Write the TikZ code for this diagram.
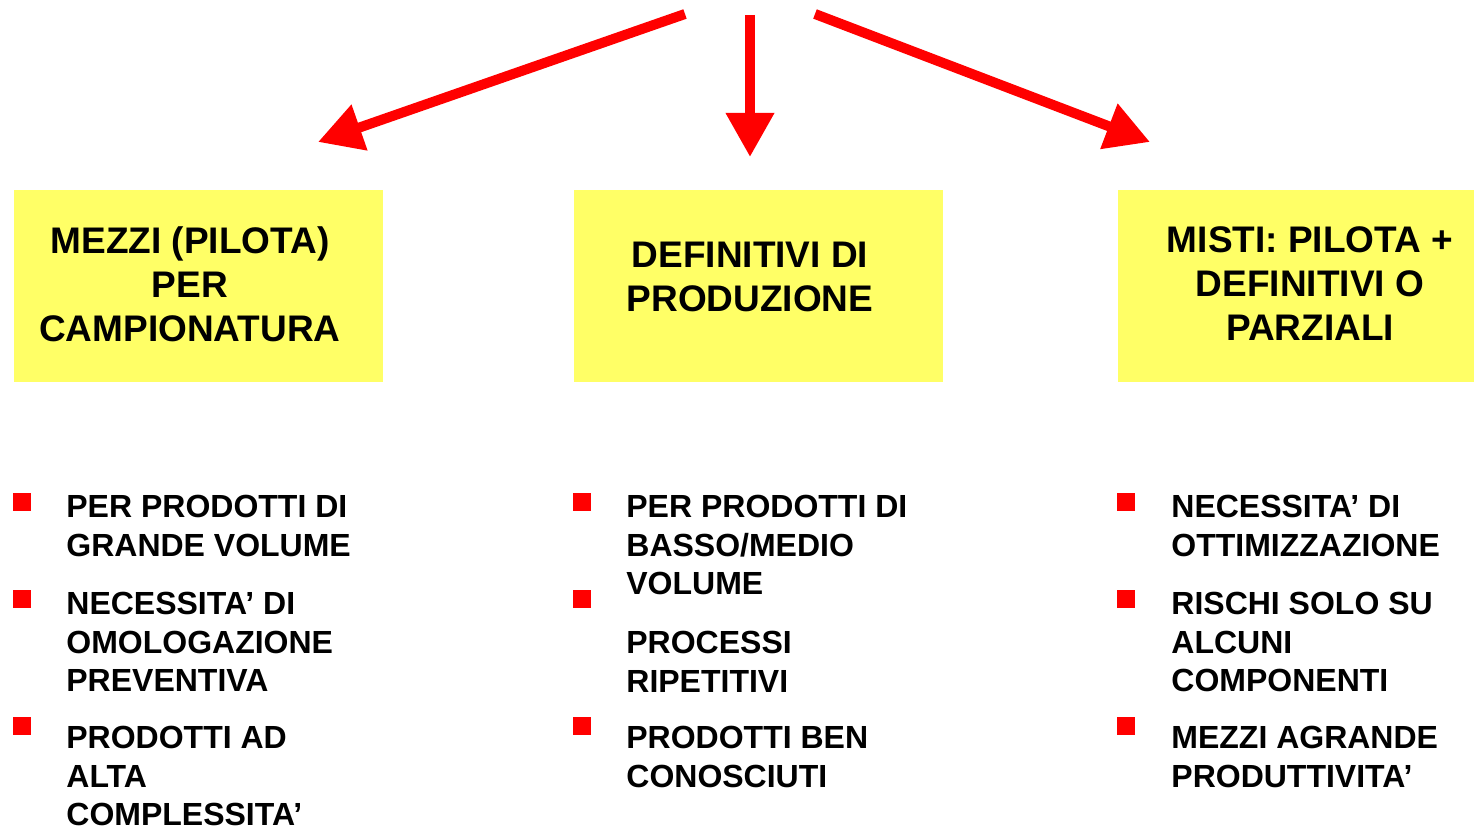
\documentclass[tikz,border=0pt]{standalone}
\usepackage{fontspec}
\setmainfont{Liberation Sans}
\usetikzlibrary{arrows.meta,positioning}
\definecolor{panelColor}{HTML}{FFFF66}
\definecolor{markColor}{HTML}{FF0000}
\tikzset{
	panel/.style={fill=panelColor, draw=none, minimum height=96pt, inner sep=0},
	panel title/.style={font=\fontsize{18.5}{22}\selectfont\bfseries, align=center, inner sep=0},
	item mark/.style={fill=markColor, draw=none, minimum size=9pt, inner sep=0},
	item text/.style={font=\fontsize{16}{19.25}\selectfont\bfseries, align=left, anchor=north west, inner sep=0},
	big arrow/.style={draw=markColor, line width=5pt, -{Triangle[length=22pt,width=23pt]}}
}

\begin{document}
\begin{tikzpicture}[x=0.5pt, y=-0.5pt]
	\useasboundingbox (0,0) rectangle (1474,828);
	
	% the three kinds of means
	\node[panel, minimum width=184.5pt] (pilot) at (198.5,286) {};
	\node[panel title] (pilot title) at (190,284) {MEZZI (PILOTA)\\PER\\CAMPIONATURA};
	
	\node[panel, minimum width=184.5pt] (final) at (758.5,286) {};
	\node[panel title] (final title) at (750,277) {DEFINITIVI DI\\PRODUZIONE};
	
	\node[panel, minimum width=178pt] (mixed) at (1296,286) {};
	\node[panel title] (mixed title) at (1310,284) {MISTI: PILOTA +\\DEFINITIVI O\\PARZIALI};
	
	% arrows from the top
	\coordinate (src left) at (685,14);
	\coordinate (tip left) at (318,142);
	\coordinate (src mid) at (750,15);
	\coordinate (tip mid) at (750,157);
	\coordinate (src right) at (815,14);
	\coordinate (tip right) at (1150,142);
	\draw[big arrow] (src left) -- (tip left);
	\draw[big arrow] (src mid) -- (tip mid);
	\draw[big arrow] (src right) -- (tip right);
	
	% bullet lists
	\node[item mark] (pilot m1) at (22,502) {};
	\node[item text] (pilot i1) at (66,495) {PER PRODOTTI DI\\GRANDE VOLUME};
	\node[item mark] (pilot m2) at (22,599) {};
	\node[item text] (pilot i2) at (66,592) {NECESSITA’ DI\\OMOLOGAZIONE\\PREVENTIVA};
	\node[item mark] (pilot m3) at (22,726) {};
	\node[item text] (pilot i3) at (66,726) {PRODOTTI AD\\ALTA\\COMPLESSITA’};
	
	\node[item mark] (final m1) at (582,502) {};
	\node[item text] (final i1) at (626,495) {PER PRODOTTI DI\\BASSO/MEDIO\\VOLUME};
	\node[item mark] (final m2) at (582,599) {};
	\node[item text] (final i2) at (626,631) {PROCESSI\\RIPETITIVI};
	\node[item mark] (final m3) at (582,726) {};
	\node[item text] (final i3) at (626,726) {PRODOTTI BEN\\CONOSCIUTI};
	
	\node[item mark] (mixed m1) at (1126,502) {};
	\node[item text] (mixed i1) at (1171,495) {NECESSITA’ DI\\OTTIMIZZAZIONE};
	\node[item mark] (mixed m2) at (1126,599) {};
	\node[item text] (mixed i2) at (1171,592) {RISCHI SOLO SU\\ALCUNI\\COMPONENTI};
	\node[item mark] (mixed m3) at (1126,726) {};
	\node[item text] (mixed i3) at (1171,726) {MEZZI AGRANDE\\PRODUTTIVITA’};
\end{tikzpicture}
\end{document}
